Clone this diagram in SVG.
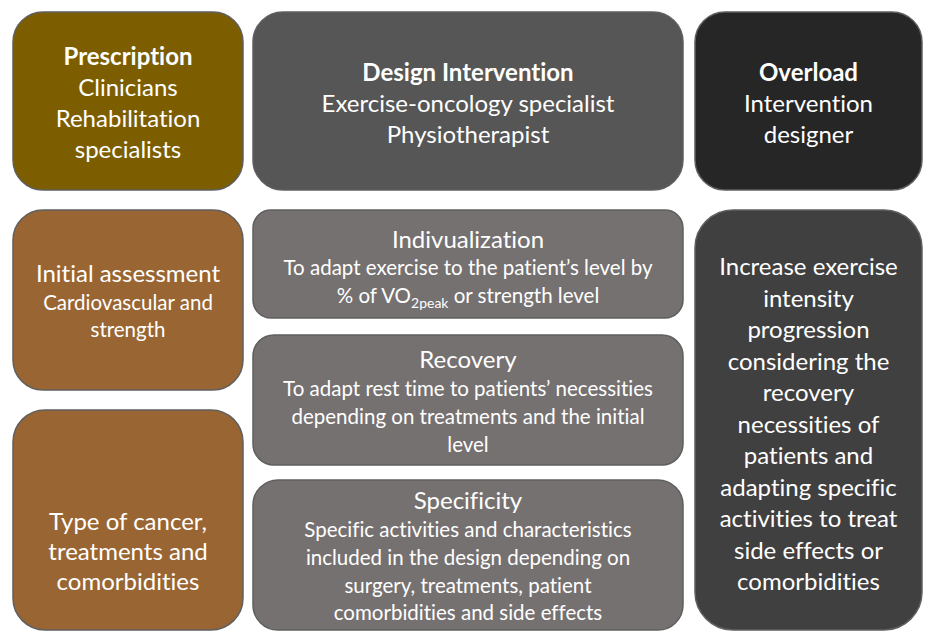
<svg xmlns="http://www.w3.org/2000/svg" width="925" height="632" viewBox="0 0 925 632">
<style>
.box{stroke:#5f5f5f;stroke-width:1.5}
text{font-family:Lato,"Open Sans","Liberation Sans",sans-serif;fill:#ffffff;text-anchor:middle;font-variant-ligatures:none}
.t{font-size:24px}
.b{font-size:24px;font-weight:bold}
.s{font-size:20.5px}
</style>
<rect width="925" height="632" fill="#ffffff"/>
<g id="connectors"></g>
<g id="prescription">
<rect class="box" x="13" y="12" width="230" height="178" rx="30" fill="#7c5e00"/>
<text x="128" y="65" class="b">Prescription</text>
<text x="128" y="96" class="t">Clinicians</text>
<text x="128" y="127" class="t">Rehabilitation</text>
<text x="128" y="158" class="t">specialists</text>
</g>
<g id="design">
<rect class="box" x="253" y="12" width="430" height="178" rx="30" fill="#565656"/>
<text x="468" y="81" class="b">Design Intervention</text>
<text x="468" y="112" class="t">Exercise-oncology specialist</text>
<text x="468" y="143" class="t">Physiotherapist</text>
</g>
<g id="overload">
<rect class="box" x="695" y="12" width="227" height="178" rx="30" fill="#262626"/>
<text x="808.5" y="81" class="b">Overload</text>
<text x="808.5" y="112" class="t">Intervention</text>
<text x="808.5" y="143" class="t">designer</text>
</g>
<g id="initial-assessment">
<rect class="box" x="13" y="210" width="230" height="180" rx="30" fill="#996633"/>
<text x="128" y="282" class="t">Initial assessment</text>
<text x="128" y="310" class="s">Cardiovascular and</text>
<text x="128" y="337" class="s">strength</text>
</g>
<g id="type-of-cancer">
<rect class="box" x="13" y="410" width="230" height="220" rx="32" fill="#996633"/>
<text x="128" y="530" class="t">Type of cancer,</text>
<text x="128" y="560" class="t">treatments and</text>
<text x="128" y="590" class="t">comorbidities</text>
</g>
<g id="individualization">
<rect class="box" x="253" y="210" width="430" height="108" rx="18" fill="#767171"/>
<text x="468" y="248" class="t">Indivualization</text>
<text x="468" y="275" class="s">To adapt exercise to the patient’s level by</text>
<text x="468" y="303" class="s">% of VO<tspan font-size="14" dy="5">2peak</tspan><tspan dy="-5"> or strength level</tspan></text>
</g>
<g id="recovery">
<rect class="box" x="253" y="335" width="430" height="130" rx="21" fill="#767171"/>
<text x="468" y="368" class="t">Recovery</text>
<text x="468" y="396" class="s">To adapt rest time to patients’ necessities</text>
<text x="468" y="424" class="s">depending on treatments and the initial</text>
<text x="468" y="452" class="s">level</text>
</g>
<g id="specificity">
<rect class="box" x="253" y="480" width="430" height="150" rx="25" fill="#767171"/>
<text x="468" y="509" class="t">Specificity</text>
<text x="468" y="537" class="s">Specific activities and characteristics</text>
<text x="468" y="565" class="s">included in the design depending on</text>
<text x="468" y="593" class="s">surgery, treatments, patient</text>
<text x="468" y="620" class="s">comorbidities and side effects</text>
</g>
<g id="overload-detail">
<rect class="box" x="695" y="210" width="227" height="420" rx="38" fill="#404040"/>
<text x="808.5" y="275" class="t">Increase exercise</text>
<text x="808.5" y="306.5" class="t">intensity</text>
<text x="808.5" y="338" class="t">progression</text>
<text x="808.5" y="369.5" class="t">considering the</text>
<text x="808.5" y="401" class="t">recovery</text>
<text x="808.5" y="432.5" class="t">necessities of</text>
<text x="808.5" y="464" class="t">patients and</text>
<text x="808.5" y="495.5" class="t">adapting specific</text>
<text x="808.5" y="527" class="t">activities to treat</text>
<text x="808.5" y="558.5" class="t">side effects or</text>
<text x="808.5" y="590" class="t">comorbidities</text>
</g>
</svg>
